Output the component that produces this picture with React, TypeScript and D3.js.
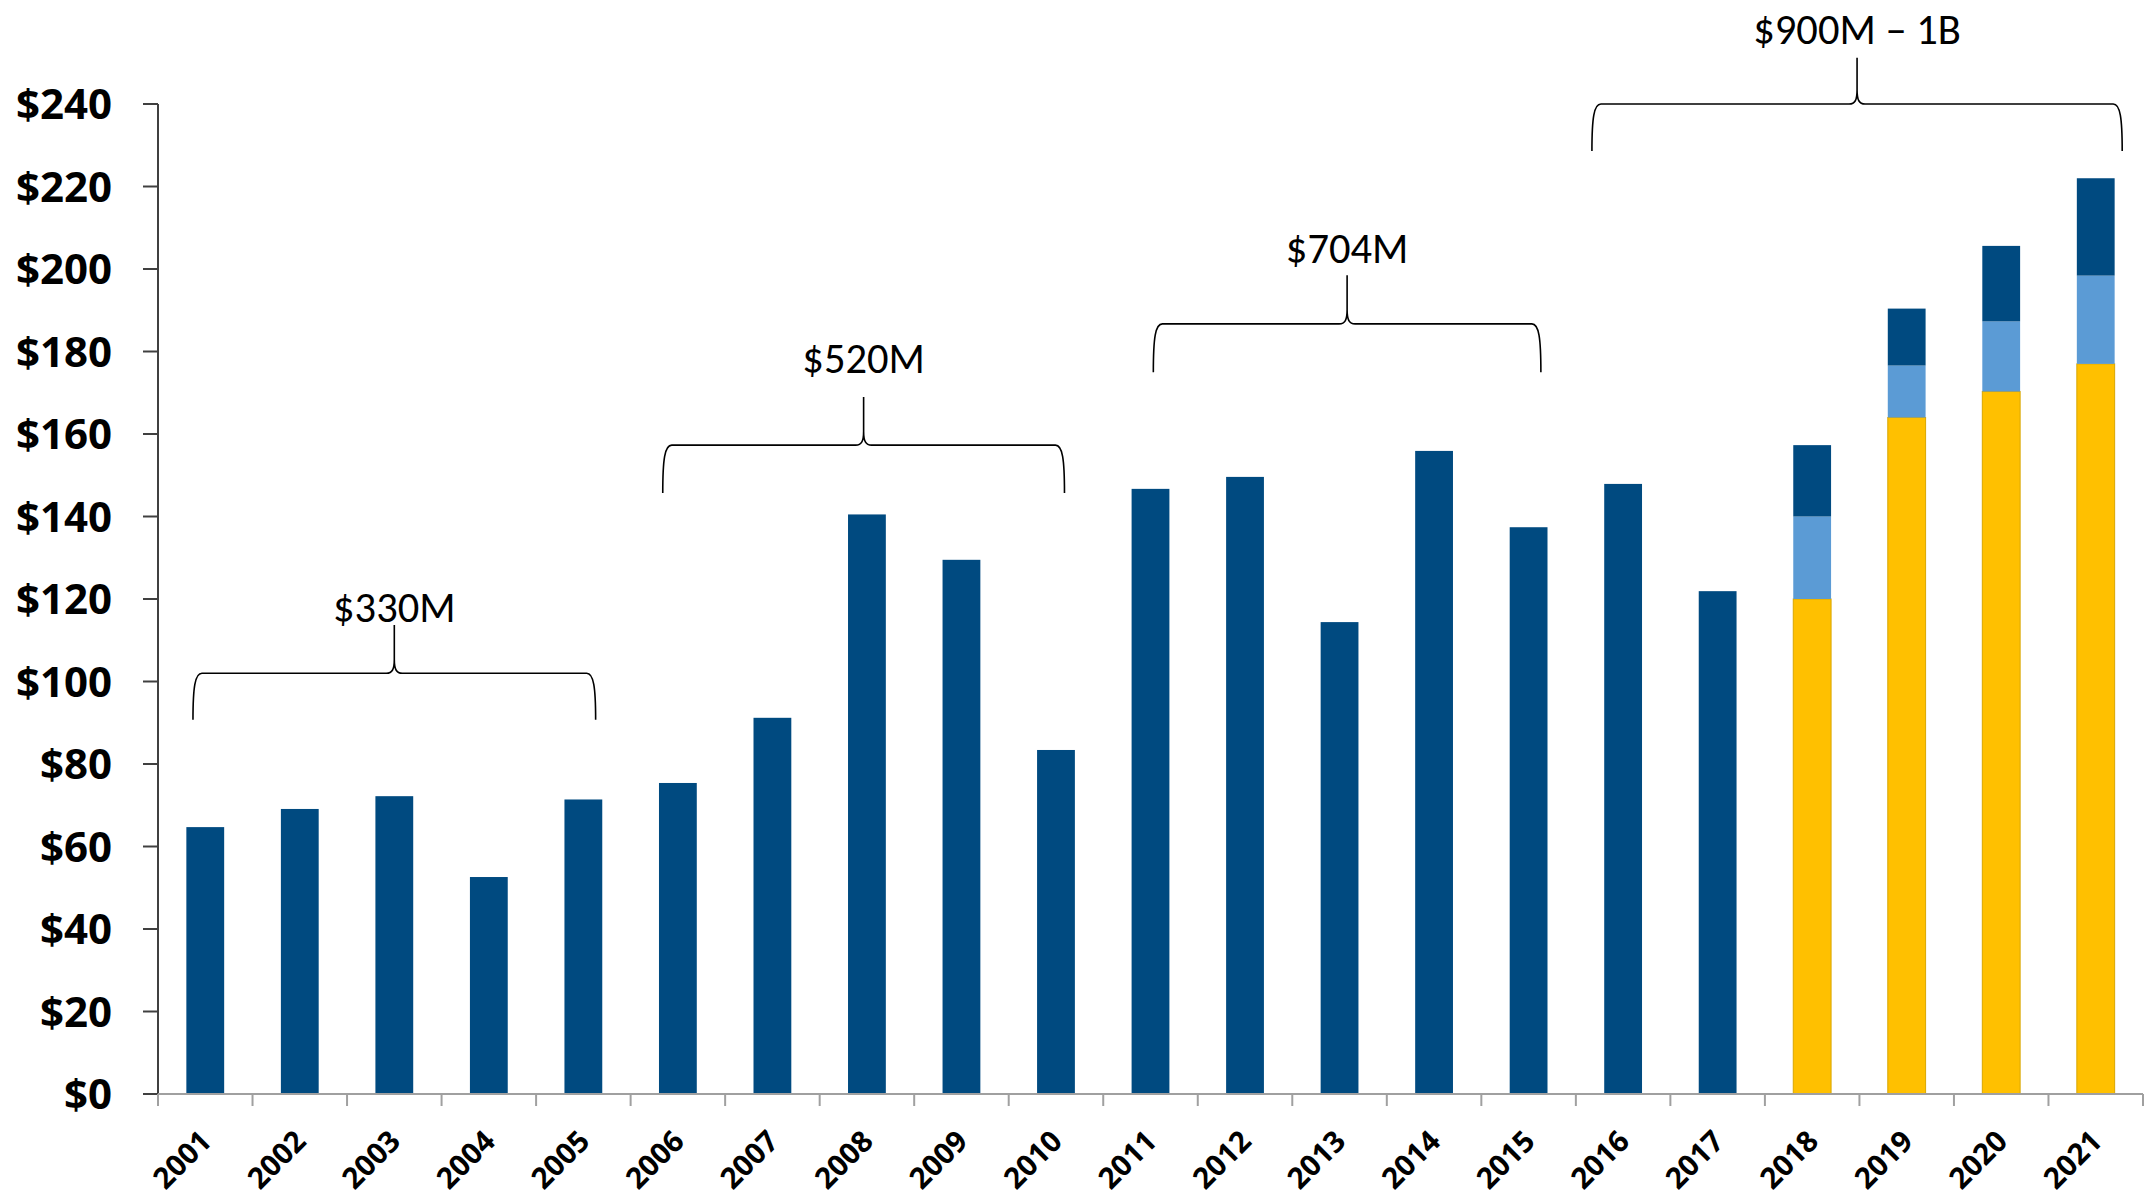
import React, { useEffect, useRef } from 'react';
import * as d3 from 'd3';

// categories
const years = [
  '2001', '2002', '2003', '2004', '2005', '2006', '2007', '2008', '2009', '2010', '2011',
  '2012', '2013', '2014', '2015', '2016', '2017', '2018', '2019', '2020', '2021',
];

// stacked series, bottom to top ($M)
const yellowValues = [0, 0, 0, 0, 0, 0, 0, 0, 0, 0, 0, 0, 0, 0, 0, 0, 0, 120, 164, 170.3, 177];
const lightBlueValues = [0, 0, 0, 0, 0, 0, 0, 0, 0, 0, 0, 0, 0, 0, 0, 0, 0, 20, 12.6, 17, 21.4];
const darkBlueValues = [
  64.7, 69.1, 72.2, 52.6, 71.4, 75.4, 91.2, 140.5, 129.5, 83.4, 146.7,
  149.6, 114.4, 155.9, 137.4, 147.9, 121.9, 17.3, 13.8, 18.3, 23.6,
];

const yTicks = [0, 20, 40, 60, 80, 100, 120, 140, 160, 180, 200, 220, 240];

// brace annotations: span in category index units, heights in $M
const braceLabels = ['$330M', '$520M', '$704M', '$900M \u2013 1B'];
const braceFrom = [-0.13, 4.84, 10.03, 14.67];
const braceTo = [4.13, 9.09, 14.13, 20.28];
const braceBase = [90.7, 145.7, 175, 228.6];
const braceLevel = [102, 157.3, 186.7, 240];
const braceTip = [113.7, 169, 198.5, 251.2];
const braceText = [114.4, 174.8, 201.5, 254.5];

const colors = ['#FFC000', '#5B9BD5', '#004A80'];

const boldFont = '"Open Sans", Carlito, Calibri, sans-serif';
const plainFont = 'Carlito, Calibri, Lato, sans-serif';

const App: React.FC = () => {
  const svgRef = useRef<SVGSVGElement>(null);

  useEffect(() => {
    if (!svgRef.current) return;
    const left = 158;
    const right = 2143;
    const bottom = 1094;
    const top = 104;

    const svg = d3.select(svgRef.current);
    svg.selectAll('*').remove();

    const x = d3.scaleBand<string>().domain(years).range([left, right]).paddingInner(0.6).paddingOuter(0.3);
    const xi = d3.scaleLinear().domain([-0.5, years.length - 0.5]).range([left, right]);
    const y = d3.scaleLinear().domain([0, 240]).range([bottom, top]);

    const rows = years.map((yr, i) => ({
      year: yr,
      yellow: yellowValues[i],
      light: lightBlueValues[i],
      dark: darkBlueValues[i],
    }));
    const series = d3.stack<any>().keys(['yellow', 'light', 'dark'])(rows);

    series.forEach((s, k) => {
      svg.append('g')
        .selectAll('rect')
        .data(s.filter(d => d[1] - d[0] > 0))
        .enter()
        .append('rect')
        .attr('x', d => x(d.data.year)!)
        .attr('width', x.bandwidth())
        .attr('y', d => y(d[1]))
        .attr('height', d => y(d[0]) - y(d[1]))
        .attr('fill', colors[k])
        .attr('stroke', k === 0 ? '#D9A600' : 'none')
        .attr('stroke-width', 1);
    });

    // y axis
    const ya = svg.append('g');
    ya.append('line').attr('x1', left).attr('x2', left).attr('y1', y(240)).attr('y2', bottom)
      .attr('stroke', '#404040').attr('stroke-width', 2);
    yTicks.forEach(t => {
      ya.append('line').attr('x1', left - 15).attr('x2', left).attr('y1', y(t)).attr('y2', y(t))
        .attr('stroke', '#404040').attr('stroke-width', 2);
      ya.append('text')
        .attr('x', 112)
        .attr('y', y(t))
        .attr('dy', '0.36em')
        .attr('text-anchor', 'end')
        .attr('font-family', boldFont)
        .attr('font-weight', 'bold')
        .attr('font-size', 42)
        .attr('fill', '#000')
        .text(`$${t}`);
    });

    // x axis
    const xa = svg.append('g');
    xa.append('line').attr('x1', left).attr('x2', right).attr('y1', bottom).attr('y2', bottom)
      .attr('stroke', '#A0A0A0').attr('stroke-width', 2);
    d3.range(years.length + 1).forEach(i => {
      const px = xi(i - 0.5);
      xa.append('line').attr('x1', px).attr('x2', px).attr('y1', bottom).attr('y2', bottom + 12)
        .attr('stroke', '#A0A0A0').attr('stroke-width', 2);
    });
    years.forEach(yr => {
      const cx = x(yr)! + x.bandwidth() / 2;
      xa.append('text')
        .attr('transform', `translate(${cx + 8},${bottom + 49}) rotate(-45)`)
        .attr('text-anchor', 'end')
        .attr('font-family', boldFont)
        .attr('font-weight', 'bold')
        .attr('font-size', 29.5)
        .attr('fill', '#000')
        .text(yr);
    });

    // braces
    const bg = svg.append('g');
    braceLabels.forEach((label, i) => {
      const x0 = xi(braceFrom[i]);
      const x1 = xi(braceTo[i]);
      const xc = (x0 + x1) / 2;
      const yb = y(braceBase[i]);
      const yh = y(braceLevel[i]);
      const yt = y(braceTip[i]);
      const r = 9;
      const c = 8;
      const p = d3.path();
      p.moveTo(x0, yb);
      p.bezierCurveTo(x0, yh + 14, x0 + 2, yh, x0 + r, yh);
      p.lineTo(xc - c, yh);
      p.bezierCurveTo(xc - 2, yh, xc, yh - 4, xc, yh - 14);
      p.lineTo(xc, yt);
      p.moveTo(xc, yh - 14);
      p.bezierCurveTo(xc, yh - 4, xc + 2, yh, xc + c, yh);
      p.lineTo(x1 - r, yh);
      p.bezierCurveTo(x1 - 2, yh, x1, yh + 14, x1, yb);
      bg.append('path')
        .attr('d', p.toString())
        .attr('fill', 'none')
        .attr('stroke', '#000')
        .attr('stroke-width', 1.6);
      bg.append('text')
        .attr('x', xc)
        .attr('y', y(braceText[i]))
        .attr('text-anchor', 'middle')
        .attr('font-family', plainFont)
        .attr('font-size', 42.5)
        .attr('fill', '#000')
        .text(label);
    });
  }, []);

  return (
    <svg
      ref={svgRef}
      width={2152}
      height={1199}
      style={{ position: 'absolute', left: 0, top: 0, background: '#fff' }}
    />
  );
};

export default App;
